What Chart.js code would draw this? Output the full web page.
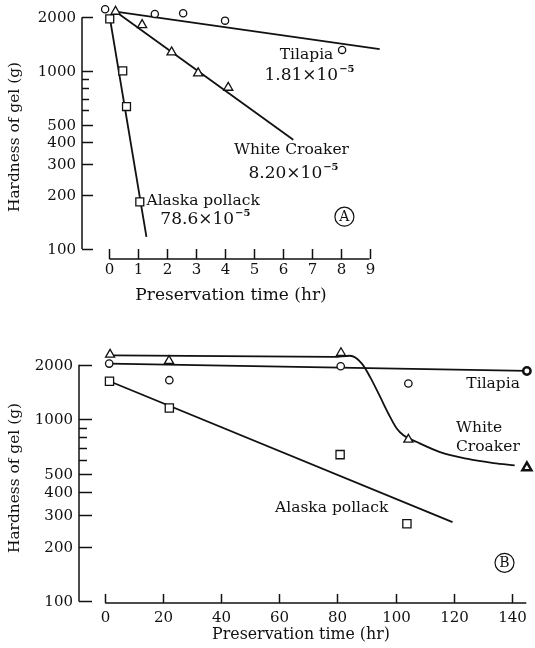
<!DOCTYPE html>
<html><head><meta charset="utf-8">
<script src="https://cdn.jsdelivr.net/npm/chart.js@4.4.1/dist/chart.umd.min.js"></script>
<style>
html,body{margin:0;padding:0;background:#fff;}
#wrap{position:relative;width:535px;height:648px;overflow:hidden;}
.box{position:absolute;left:0;width:535px;}
canvas{display:block;}
</style></head><body>
<div id="wrap">
<div class="box" style="top:0;height:320px"><canvas id="cA" width="535" height="320"></canvas></div>
<div class="box" style="top:320px;height:328px"><canvas id="cB" width="535" height="328"></canvas></div>
</div>
<script>
// ---------- Panel A : preservation time (hr) ----------
const aTilapiaX = [-0.15, 1.57, 2.55, 4.0, 8.05];
const aTilapiaY = [2218, 2089, 2108, 1915, 1312];
const aTilapiaFitX = [0.21, 9.35];
const aTilapiaFitY = [2152, 1324];
const aCroakerX = [0.21, 1.13, 2.15, 3.07, 4.11];
const aCroakerY = [2152, 1811, 1273, 971, 806];
const aCroakerFitX = [0.21, 6.36];
const aCroakerFitY = [2152, 411];
const aPollackX = [0.01, 0.46, 0.59, 1.05];
const aPollackY = [1958, 1000, 631, 184];
const aPollackFitX = [0.01, 1.28];
const aPollackFitY = [2000, 117];

// ---------- Panel B : preservation time (hr) ----------
const bTilapiaX = [1.4, 22.1, 81.1, 104.4, 145.2];
const bTilapiaY = [2030, 1644, 1962, 1577, 1849];
const bTilapiaFitX = [1.4, 145.2];
const bTilapiaFitY = [2030, 1849];
const bCroakerX = [1.7, 22.0, 81.2, 104.4, 145.2];
const bCroakerY = [2276, 2100, 2323, 776, 544];
const bCroakerCurveX = [2.9, 78.6, 84.3, 88.4, 91.2, 94.7, 97.5, 100.4, 102.7, 107.3, 115.3, 124.5, 133.7, 141.0];
const bCroakerCurveY = [2253, 2208, 2240, 2030, 1715, 1330, 1079, 892, 819, 752, 662, 609, 576, 560];
const bPollackX = [1.5, 22.1, 80.9, 103.9];
const bPollackY = [1623, 1156, 641, 267];
const bPollackFitX = [1.5, 119.6];
const bPollackFitY = [1623, 273];

// ---------- axis ticks / labels ----------
const yMajorTicks = [100, 200, 300, 400, 500, 1000, 2000];
const yMinorTicks = [600, 700, 800, 900];
const xTicksA = [0, 1, 2, 3, 4, 5, 6, 7, 8, 9];
const xTicksB = [0, 20, 40, 60, 80, 100, 120, 140];
const yTitle = 'Hardness of gel (g)';
const xTitle = 'Preservation time (hr)';
const seriesNames = ['Tilapia', 'White Croaker', 'Alaska pollack'];
const rateA = ['1.81', '8.20', '78.6'];

const INK = '#111';
const FONT = '"DejaVu Serif", "Liberation Serif", serif';

function pts(xs, ys) { return xs.map((x, i) => ({ x: x, y: ys[i] })); }
function markers(xs, ys, style, r, boldLast) {
  return {
    data: pts(xs, ys), showLine: false, pointStyle: style, pointRadius: r,
    pointBorderColor: INK, pointBackgroundColor: '#fff',
    pointBorderWidth: c => (boldLast && c.dataIndex === xs.length - 1) ? 2.5 : 1.3,
    order: 0
  };
}
function fit(xs, ys, smooth) {
  return {
    data: pts(xs, ys), showLine: true, pointRadius: 0, borderColor: INK, borderWidth: 1.8,
    fill: false, cubicInterpolationMode: smooth ? 'monotone' : 'default', tension: 0, order: 1
  };
}

function drawSci(ctx, mant, cx, cy, size) {
  const main = mant + '×10';
  const sup = '−5';
  const supSize = Math.round(size * 0.6);
  ctx.font = size + 'px ' + FONT;
  const w1 = ctx.measureText(main).width;
  ctx.font = 'bold ' + supSize + 'px ' + FONT;
  const w2 = ctx.measureText(sup).width;
  const x0 = cx - (w1 + w2 + 1) / 2;
  ctx.textAlign = 'left'; ctx.textBaseline = 'middle';
  ctx.font = size + 'px ' + FONT;
  ctx.fillText(main, x0, cy);
  ctx.font = 'bold ' + supSize + 'px ' + FONT;
  ctx.fillText(sup, x0 + w1 + 1, cy - size * 0.38);
}

function axesPlugin(cfg) {
  return {
    id: 'axesDraw',
    afterDatasetsDraw(chart) {
      const ctx = chart.ctx, xs = chart.scales.x, ys = chart.scales.y, ca = chart.chartArea;
      ctx.save();
      ctx.strokeStyle = INK; ctx.fillStyle = INK; ctx.lineWidth = 1.5; ctx.lineCap = 'butt';
      // y axis
      const ax = ca.left;
      ctx.beginPath();
      ctx.moveTo(ax, ys.getPixelForValue(2000));
      ctx.lineTo(ax, ys.getPixelForValue(100));
      ctx.stroke();
      ctx.font = cfg.tickFont + 'px ' + FONT;
      ctx.textAlign = 'right'; ctx.textBaseline = 'middle';
      yMajorTicks.forEach(v => {
        const py = Math.round(ys.getPixelForValue(v)) + 0.5;
        ctx.beginPath(); ctx.moveTo(ax, py); ctx.lineTo(ax + cfg.majorLen, py); ctx.stroke();
        ctx.fillText(String(v), ax - 6, py + 1);
      });
      yMinorTicks.forEach(v => {
        const py = Math.round(ys.getPixelForValue(v)) + 0.5;
        ctx.beginPath(); ctx.moveTo(ax, py); ctx.lineTo(ax + cfg.minorLen, py); ctx.stroke();
      });
      // x axis
      const ay = ca.bottom;
      ctx.beginPath();
      ctx.moveTo(xs.getPixelForValue(cfg.xTicks[0]), ay);
      ctx.lineTo(xs.getPixelForValue(cfg.xAxisEnd), ay);
      ctx.stroke();
      ctx.textAlign = 'center';
      cfg.xTicks.forEach(v => {
        const px = Math.round(xs.getPixelForValue(v)) + 0.5;
        ctx.beginPath(); ctx.moveTo(px, ay); ctx.lineTo(px, ay - cfg.xTickLen); ctx.stroke();
        ctx.fillText(String(v), px, ay + cfg.xLabelOff);
      });
      // titles
      ctx.font = cfg.xTitleFont + 'px ' + FONT;
      ctx.fillText(xTitle, cfg.xTitlePos[0], cfg.xTitlePos[1]);
      ctx.save();
      ctx.font = cfg.yTitleFont + 'px ' + FONT;
      ctx.translate(cfg.yTitlePos[0], cfg.yTitlePos[1]);
      ctx.rotate(-Math.PI / 2);
      ctx.fillText(yTitle, 0, 0);
      ctx.restore();
      // notes
      cfg.notes.forEach(n => {
        const px = xs.getPixelForValue(n.x), py = ys.getPixelForValue(n.y);
        if (n.sci) { drawSci(ctx, n.sci, px, py, cfg.sciFont); return; }
        if (n.circled) {
          ctx.lineWidth = 1.2;
          ctx.beginPath(); ctx.arc(px, py, 9.5, 0, Math.PI * 2); ctx.stroke();
          ctx.font = '14px ' + FONT; ctx.textAlign = 'center'; ctx.textBaseline = 'middle';
          ctx.fillText(n.circled, px, py + 1);
          return;
        }
        ctx.font = cfg.noteFont + 'px ' + FONT;
        ctx.textAlign = n.align || 'center'; ctx.textBaseline = 'middle';
        ctx.fillText(n.text, px, py);
      });
      ctx.restore();
    }
  };
}

function makeChart(id, cfg) {
  return new Chart(document.getElementById(id), {
    type: 'line',
    data: { datasets: cfg.datasets },
    options: {
      responsive: false, animation: false, devicePixelRatio: 1,
      layout: { padding: cfg.padding, autoPadding: false },
      plugins: { legend: { display: false }, tooltip: { enabled: false } },
      events: [],
      scales: {
        x: { type: 'linear', display: false, min: cfg.xMin, max: cfg.xMax },
        y: { type: 'logarithmic', display: false, min: cfg.yMin, max: cfg.yMax }
      },
      clip: false
    },
    plugins: [axesPlugin(cfg)]
  });
}

makeChart('cA', {
  datasets: [
    markers(aTilapiaX, aTilapiaY, 'circle', 3.6, false),
    markers(aCroakerX, aCroakerY, 'triangle', 5.3, false),
    markers(aPollackX, aPollackY, 'rect', 5.6, false),
    fit(aTilapiaFitX, aTilapiaFitY),
    fit(aCroakerFitX, aCroakerFitY),
    fit(aPollackFitX, aPollackFitY)
  ],
  padding: { left: 82, right: 151, top: 0, bottom: 61 },
  xMin: -0.95, xMax: 9.5, yMin: 88, yMax: 2500,
  xTicks: xTicksA, xAxisEnd: 9,
  majorLen: 11, minorLen: 7, xTickLen: 10, xLabelOff: 11,
  tickFont: 15, xTitleFont: 17, yTitleFont: 15.4, noteFont: 15.5, sciFont: 17,
  xTitlePos: [231, 296], yTitlePos: [15, 137],
  notes: [
    { text: seriesNames[0], x: 6.82, y: 1229 },
    { sci: rateA[0], x: 6.92, y: 937 },
    { text: seriesNames[1], x: 6.30, y: 360 },
    { sci: rateA[1], x: 6.37, y: 264 },
    { text: seriesNames[2], x: 1.28, y: 187, align: 'left' },
    { sci: rateA[2], x: 3.32, y: 146 },
    { circled: 'A', x: 8.13, y: 152 }
  ]
});

makeChart('cB', {
  datasets: [
    markers(bTilapiaX, bTilapiaY, 'circle', 3.7, true),
    markers(bCroakerX, bCroakerY, 'triangle', 5.2, true),
    markers(bPollackX, bPollackY, 'rect', 5.8, false),
    fit(bTilapiaFitX, bTilapiaFitY),
    fit(bCroakerCurveX, bCroakerCurveY, true),
    fit(bPollackFitX, bPollackFitY)
  ],
  padding: { left: 79, right: 0, top: 24, bottom: 45 },
  xMin: -9, xMax: 148, yMin: 98, yMax: 2600,
  xTicks: xTicksB, xAxisEnd: 145,
  majorLen: 13, minorLen: 8, xTickLen: 9, xLabelOff: 15,
  tickFont: 15, xTitleFont: 15.8, yTitleFont: 15.4, noteFont: 15.5, sciFont: 17,
  xTitlePos: [301, 315], yTitlePos: [15, 158],
  notes: [
    { text: seriesNames[0], x: 133.6, y: 1577 },
    { text: 'White', x: 120.8, y: 895, align: 'left' },
    { text: 'Croaker', x: 120.8, y: 706, align: 'left' },
    { text: seriesNames[2], x: 78.0, y: 325 },
    { circled: 'B', x: 137.5, y: 163 }
  ]
});
</script>
</body></html>
